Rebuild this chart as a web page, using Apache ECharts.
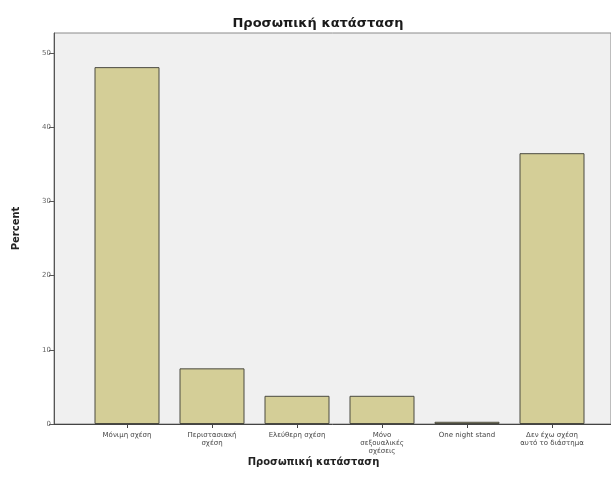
<!DOCTYPE html>
<html><head><meta charset="utf-8">
<script src="https://cdn.jsdelivr.net/npm/echarts@6/dist/echarts.min.js"></script>
<style>html,body{margin:0;padding:0;background:#fff}#c{width:611px;height:494px}</style>
</head><body><div id="c"></div>
<script>
const categories = ["Μόνιμη σχέση", "Περιστασιακή\nσχέση", "Ελεύθερη σχέση", "Μόνο\nσεξουαλικές\nσχέσεις", "One night stand", "Δεν έχω σχέση\nαυτό το διάστημα"];
const percentValues = [48.1, 7.5, 3.8, 3.8, 0.3, 36.5];
const yTicks = [0, 10, 20, 30, 40, 50];

const chart = echarts.init(document.getElementById('c'));
const font = "DejaVu Sans";
chart.setOption({
  animation: false,
  title: {
    text: "Προσωπική κατάσταση", left: 313, top: 12, textAlign: 'center',
    textStyle: {fontFamily: font, fontSize: 13, fontWeight: 'bold', color: '#1a1a1a'}
  },
  grid: [
    {left: 54, right: -3, top: 33, bottom: 70, show: true, backgroundColor: '#f0f0f0', borderColor: '#8a8a8a', borderWidth: 1},
    {left: 84.5, right: 16.5, top: 33, bottom: 70}
  ],
  xAxis: [
    {gridIndex: 0, type: 'value', min: 0, max: 1, axisLine: {show: true, onZero: false, lineStyle: {color: '#444', width: 1}}, axisTick: {show: false}, axisLabel: {show: false}, splitLine: {show: false},
     name: "Προσωπική κατάσταση", nameLocation: 'middle', nameGap: 33, nameTextStyle: {fontFamily: font, fontSize: 10, fontWeight: 'bold', color: '#222', padding: [0, 0, 0, -38]}},
    {gridIndex: 1, type: 'category', data: categories, axisLine: {show: false}, axisTick: {show: true, alignWithLabel: true, length: 4, lineStyle: {color: '#444'}},
     axisLabel: {interval: 0, fontFamily: font, fontSize: 7, color: '#444', lineHeight: 8, margin: 7}}
  ],
  yAxis: [
    {gridIndex: 0, type: 'value', min: 0, max: 52.7, interval: 10, axisLine: {show: true, lineStyle: {color: '#555'}}, axisTick: {show: true, length: 5, lineStyle: {color: '#555'}},
     axisLabel: {fontFamily: font, fontSize: 7, color: '#666', margin: 3, showMaxLabel: false, formatter: v => yTicks.includes(v) ? String(v) : ''}, splitLine: {show: false},
     name: "Percent", nameLocation: 'middle', nameGap: 33, nameTextStyle: {fontFamily: font, fontSize: 10, fontWeight: 'bold', color: '#222'}},
    {gridIndex: 1, type: 'value', min: 0, max: 52.7, interval: 10, show: false}
  ],
  series: [{
    type: 'bar', xAxisIndex: 1, yAxisIndex: 1, data: percentValues, barWidth: 65,
    itemStyle: {color: '#d4ce97', borderColor: '#4a4a40', borderWidth: 1}
  }]
});
</script></body></html>
